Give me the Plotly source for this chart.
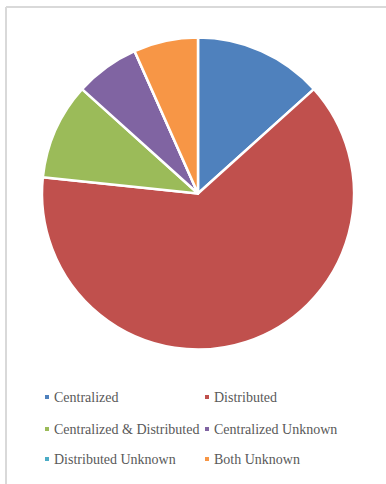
import plotly.graph_objects as go

W, H = 386, 484

labels = ["Centralized", "Distributed", "Centralized & Distributed",
          "Centralized Unknown", "Distributed Unknown", "Both Unknown"]
values = [4, 19, 3, 2, 0, 2]
colors = ["#4F81BD", "#C0504D", "#9BBB59", "#8064A2", "#4BACC6", "#F79646"]

def px(x):
    return x / W

def py(y):
    return 1 - y / H

fig = go.Figure(go.Pie(
    labels=labels,
    values=values,
    sort=False,
    direction="clockwise",
    rotation=0,
    textinfo="none",
    hoverinfo="label+value+percent",
    marker=dict(colors=colors, line=dict(color="white", width=2.5)),
    domain=dict(x=[px(42), px(354)], y=[py(350), py(37)]),
    showlegend=False,
))

# chart frame: top and left edges
shapes = [
    dict(type="line", xref="paper", yref="paper",
         x0=px(6), x1=1, y0=py(7), y1=py(7),
         line=dict(color="#D9D9D9", width=2)),
    dict(type="line", xref="paper", yref="paper",
         x0=px(6), x1=px(6), y0=py(7), y1=0,
         line=dict(color="#D9D9D9", width=2)),
]
annotations = []

# two-column legend beneath the pie
col_x = [47, 207]
row_y = [397, 429, 459]
for i, (lab, col) in enumerate(zip(labels, colors)):
    cx = col_x[i % 2]
    cy = row_y[i // 2]
    shapes.append(dict(type="rect", xref="paper", yref="paper",
                       x0=px(cx - 2), x1=px(cx + 2), y0=py(cy + 2), y1=py(cy - 2),
                       line=dict(width=0), fillcolor=col))
    annotations.append(dict(text=lab, xref="paper", yref="paper",
                            x=px(cx + 5), y=py(cy), xanchor="left", yanchor="middle",
                            showarrow=False,
                            font=dict(family="Liberation Serif", size=14, color="#595959")))

fig.update_layout(
    width=W, height=H, autosize=False,
    margin=dict(l=0, r=0, t=0, b=0),
    paper_bgcolor="white", plot_bgcolor="white",
    shapes=shapes, annotations=annotations,
)

fig.write_html("out.html")
